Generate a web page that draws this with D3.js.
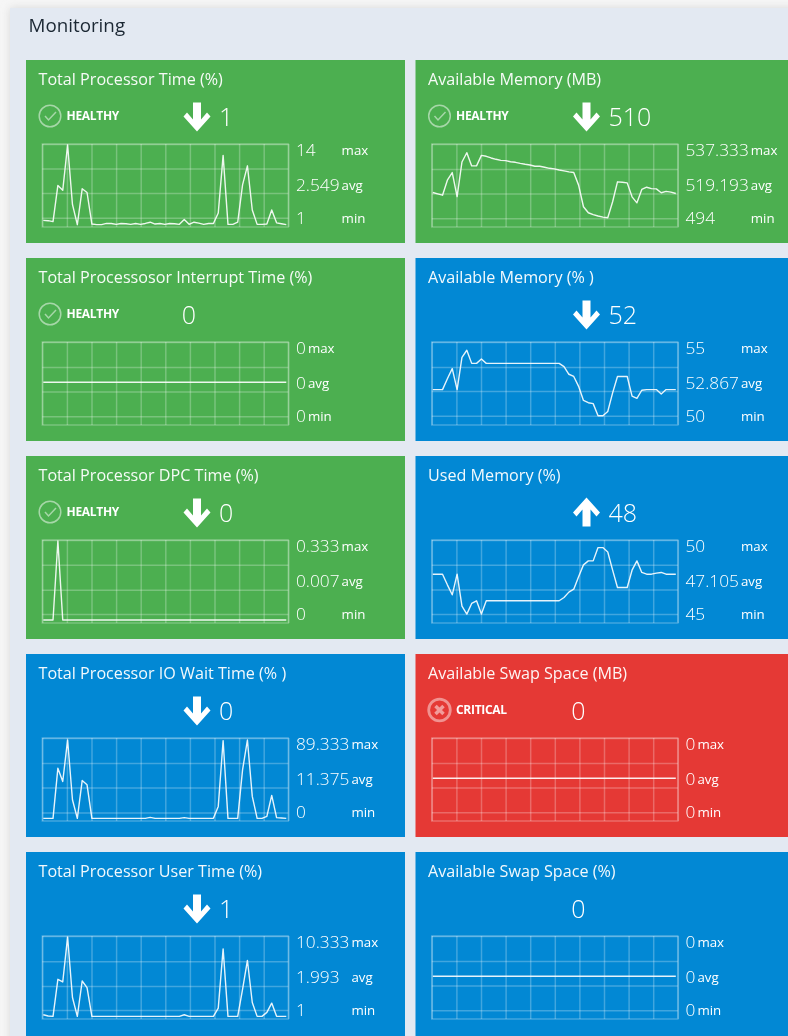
<!DOCTYPE html>
<html>
<head>
<meta charset="utf-8">
<script src="https://cdn.jsdelivr.net/npm/d3@7"></script>
<style>
html, body { margin: 0; padding: 0; background: #f6f6f6; overflow: hidden; }
svg { display: block; font-family: "Open Sans", "Noto Sans", sans-serif; filter: blur(0.35px); }
</style>
</head>
<body>
<svg></svg>
<script>
// cards read row by row, left column first
var titles = ["Total Processor Time (%)", "Available Memory (MB)", "Total Processosor Interrupt Time (%)", "Available Memory (% )",
  "Total Processor DPC Time (%)", "Used Memory (%)", "Total Processor IO Wait Time (% )", "Available Swap Space (MB)",
  "Total Processor User Time (%)", "Available Swap Space (%)"];
var states = ["healthy", "healthy", "healthy", "none", "healthy", "none", "none", "critical", "none", "none"];
var arrows = ["down", "down", "", "down", "down", "up", "down", "", "down", ""];
var current = ["1", "510", "0", "52", "0", "48", "0", "0", "1", "0"];
var maxes = ["14", "537.333", "0", "55", "0.333", "50", "89.333", "0", "10.333", "0"];
var avgs = ["2.549", "519.193", "0", "52.867", "0.007", "47.105", "11.375", "0", "1.993", "0"];
var mins = ["1", "494", "0", "50", "0", "45", "0", "0", "1", "0"];

var procTime = [1.7, 1.65, 1.5, 7.4, 6.6, 14, 4.3, 1, 6.85, 6.25, 1.1, 1, 1, 1.2, 1.2, 1.05, 1.2, 1.15, 1.05, 1.2, 1.05, 1.2, 1.4, 1.1, 1.2, 1.05, 1.2, 1.15, 1.05, 1.85, 1.05, 1.4, 1.25, 1.05, 1.2, 1.2, 2.9, 12.3, 1.05, 1.05, 1.4, 7.5, 10.6, 3.4, 1.05, 1.05, 1.1, 3.4, 1.3, 1.15, 1];
var memMb = [510.8, 509.9, 509, 519, 524.1, 508.1, 531.1, 537.3, 528.5, 528.5, 535.5, 534.9, 533.8, 532.9, 532.2, 532, 531.3, 530.9, 530.2, 529.6, 529.1, 528.3, 528.3, 527.6, 526.9, 526.5, 525.8, 525.2, 524.5, 524.1, 515.7, 501.3, 497.3, 496, 495.1, 494.4, 494, 504.6, 517.9, 517.6, 517.2, 507.9, 503.9, 512.8, 514.3, 513.4, 513.2, 510.6, 511.5, 511, 510.1];
var interrupt = [0, 0, 0, 0, 0, 0, 0, 0, 0, 0, 0, 0, 0, 0, 0, 0, 0, 0, 0, 0, 0, 0, 0, 0, 0, 0, 0, 0, 0, 0, 0, 0, 0, 0, 0, 0, 0, 0, 0, 0, 0, 0, 0, 0, 0, 0, 0, 0, 0, 0, 0];
var memPct = [52, 52, 52, 52.83, 53.6, 52, 54.45, 55, 54, 54, 54.33, 54, 54, 54, 54, 54, 54, 54, 54, 54, 54, 54, 54, 54, 54, 54, 54, 53.75, 53.17, 53, 52.25, 51.17, 51, 50.93, 50, 50, 50.33, 51.75, 53, 53, 53, 51.5, 51.33, 51.95, 52, 52, 52, 51.67, 52, 52, 52];
var dpc = [0, 0, 0, 0.333, 0, 0, 0, 0, 0, 0, 0, 0, 0, 0, 0, 0, 0, 0, 0, 0, 0, 0, 0, 0, 0, 0, 0, 0, 0, 0, 0, 0, 0, 0, 0, 0, 0, 0, 0, 0, 0, 0, 0, 0, 0, 0, 0, 0, 0, 0, 0];
var usedPct = [48, 48, 48, 47.2, 46.45, 48, 45.6, 45, 45.8, 46, 45, 46, 46, 46, 46, 46, 46, 46, 46, 46, 46, 46, 46, 46, 46, 46, 46, 46.25, 46.65, 46.87, 47.8, 48.7, 49, 49, 50, 50, 49.67, 48.3, 47, 47, 47, 48.3, 49, 48.13, 48, 48, 48.08, 48.13, 48, 48, 48];
var ioWait = [0, 0, 0, 57.2, 42, 89.33, 21.2, 0, 43.1, 38.2, 0, 0, 0, 0, 0, 0, 0, 0, 0, 0, 0, 0, 1.1, 0, 0, 0, 0, 0, 0, 0.8, 0, 0, 0, 0, 0, 0, 13.6, 88.6, 0, 0, 0, 55.3, 89.33, 25, 0, 0, 2.3, 26.1, 0.8, 0.4, 0];
var swapMb = [0, 0, 0, 0, 0, 0, 0, 0, 0, 0, 0, 0, 0, 0, 0, 0, 0, 0, 0, 0, 0, 0, 0, 0, 0, 0, 0, 0, 0, 0, 0, 0, 0, 0, 0, 0, 0, 0, 0, 0, 0, 0, 0, 0, 0, 0, 0, 0, 0, 0, 0];
var userTime = [1.19, 1.04, 1, 5.36, 5.05, 10.33, 3.22, 1, 5.16, 4.39, 1, 1, 1, 1, 1, 1, 1, 1, 1, 1, 1, 1, 1, 1, 1, 1, 1, 1, 1, 1.19, 1, 1, 1, 1, 1, 1, 1.97, 8.94, 1, 1, 1, 4.19, 7.58, 2.63, 1, 1, 1.47, 2.56, 1, 1, 1];
var swapPct = [0, 0, 0, 0, 0, 0, 0, 0, 0, 0, 0, 0, 0, 0, 0, 0, 0, 0, 0, 0, 0, 0, 0, 0, 0, 0, 0, 0, 0, 0, 0, 0, 0, 0, 0, 0, 0, 0, 0, 0, 0, 0, 0, 0, 0, 0, 0, 0, 0, 0, 0];
var series = [procTime, memMb, interrupt, memPct, dpc, usedPct, ioWait, swapMb, userTime, swapPct];

// value axis of each card, bottom then top of the plot
var yDomains = [[0.62, 14.16], [487.8, 543.1], [-1.03, 0.97], [49.3, 55.63], [-0.0125, 0.337], [44.33, 50.57], [-3.03, 91.6], [-1.03, 0.97], [0.69, 10.46], [-1.03, 0.97]];
var yTicks = [[2.14, 6.15, 10.15, 14.16], [493.6, 510.1, 526.5, 543.1], [-0.82, -0.22, 0.37, 0.97], [50, 51.9, 53.72, 55.63], [0.025, 0.128, 0.233, 0.337],
  [45, 46.84, 48.7, 50.57], [6.8, 35.2, 63.2, 91.6], [-0.82, -0.22, 0.37, 0.97], [1.74, 4.58, 7.5, 10.46], [-0.82, -0.22, 0.37, 0.97]];

var width = 788, height = 1036;
var cardWidth = 379, cardHeight = 183, plotWidth = 246, plotHeight = 83;
var colX = [26, 415.5], rowY = [60, 258, 456, 654, 852];
var fills = { healthy: "#4caf50", critical: "#e53935", none: "#0288d4" };
var statusText = { healthy: "HEALTHY", critical: "CRITICAL" };

var svg = d3.select("svg").attr("width", width).attr("height", height);

var defs = svg.append("defs");
defs.append("filter").attr("id", "soft").attr("x", "-5%").attr("y", "-5%").attr("width", "110%").attr("height", "110%")
  .append("feGaussianBlur").attr("stdDeviation", 4);

svg.append("rect").attr("x", 10).attr("y", 8).attr("width", 800).attr("height", 1050)
  .attr("fill", "#d8d8d8").attr("filter", "url(#soft)");
svg.append("rect").attr("x", 10).attr("y", 8).attr("width", 800).attr("height", 1050).attr("fill", "#e3e9f2");

svg.append("text").attr("x", 28.5).attr("y", 32).attr("font-size", 18.8).attr("fill", "#1b2733").text("Monitoring");

var gridX = d3.scaleLinear().domain([0, 10]).range([0, plotWidth]);
var dataX = d3.scaleLinear().domain([0, 50]).range([1, plotWidth - 2]);

titles.forEach(function (title, i) {
  var row = Math.floor(i / 2);
  var card = svg.append("g")
    .attr("transform", "translate(" + colX[i % 2] + "," + rowY[row] + ")");

  // the bottom row runs off the page
  card.append("rect").attr("width", cardWidth).attr("height", row == 4 ? cardHeight + 8 : cardHeight)
    .attr("fill", fills[states[i]]);

  card.append("text").attr("x", 12.5).attr("y", 24.5).attr("font-size", 16.15)
    .attr("fill", "#fff").attr("fill-opacity", 0.95).text(title);

  // status badge
  if (states[i] != "none") {
    var badge = card.append("g").attr("transform", "translate(24,56)");
    badge.append("circle").attr("r", 10.8).attr("fill", "none")
      .attr("stroke", "#fff").attr("stroke-opacity", 0.5).attr("stroke-width", 1.5);
    if (states[i] == "healthy") {
      badge.append("path").attr("d", "M-5,0 L-1.5,4 L6,-4").attr("fill", "none")
        .attr("stroke", "#fff").attr("stroke-opacity", 0.5).attr("stroke-width", 1.5);
    } else {
      badge.select("circle").attr("stroke-width", 2.8).attr("stroke-opacity", 0.45);
      badge.append("path").attr("d", "M-4,-4 L4,4 M4,-4 L-4,4").attr("fill", "none")
        .attr("stroke", "#fff").attr("stroke-opacity", 0.5).attr("stroke-width", 3.5);
    }
    card.append("text").attr("x", 40.5).attr("y", 60).attr("font-size", 12).attr("font-weight", 700)
      .attr("letter-spacing", -0.3).attr("fill", "#fff").text(statusText[states[i]]);
  }

  // trend arrow and current value
  if (arrows[i]) {
    card.append("path")
      .attr("d", "M-4,-14 H4 V3 L10,-4 L13.5,0 L0,15 L-13.5,0 L-10,-4 L-4,3 Z")
      .attr("fill", "#fff")
      .attr("transform", "translate(171,56.5)" + (arrows[i] == "up" ? " rotate(180)" : ""));
    card.append("text").attr("x", 193).attr("y", 66).attr("font-size", 25).attr("font-weight", 300)
      .attr("fill", "#fff").text(current[i]);
  } else {
    card.append("text").attr("x", 163).attr("y", 66).attr("text-anchor", "middle").attr("font-size", 25).attr("font-weight", 300)
      .attr("fill", "#fff").text(current[i]);
  }

  // plot
  var y = d3.scaleLinear().domain(yDomains[i]).range([plotHeight, 0]);
  var plot = card.append("g").attr("transform", "translate(16.3,84)");

  plot.append("g").attr("transform", "translate(0," + plotHeight + ")")
    .call(d3.axisBottom(gridX).ticks(10).tickSize(-plotHeight).tickFormat(""))
    .call(function (g) { g.select(".domain").remove(); });
  plot.append("g")
    .call(d3.axisLeft(y).tickValues(yTicks[i]).tickSize(-plotWidth).tickFormat(""))
    .call(function (g) { g.select(".domain").remove(); });
  plot.append("rect").attr("width", plotWidth).attr("height", plotHeight).attr("fill", "none")
    .attr("stroke", "#fff").attr("stroke-opacity", 0.25).attr("stroke-width", 1.5);
  plot.selectAll(".tick line").attr("stroke", "#fff").attr("stroke-opacity", 0.25).attr("stroke-width", 1.5);

  plot.append("path").datum(series[i])
    .attr("fill", "none").attr("stroke", "#fff").attr("stroke-opacity", 0.9).attr("stroke-width", 1.4).attr("stroke-linejoin", "round")
    .attr("d", d3.line().x(function (d, k) { return dataX(k); }).y(function (d) { return y(d); }));

  // max, avg, min; the labels line up just after the widest value
  var statX = 270;
  var rows = [[maxes[i], "max", 96], [avgs[i], "avg", 131], [mins[i], "min", 164]];
  var widest = 0;
  rows.forEach(function (r) {
    var t = card.append("text").attr("x", statX).attr("y", r[2]).attr("font-size", 17.3).attr("font-weight", 300)
      .attr("fill", "#fff").text(r[0]);
    widest = Math.max(widest, t.node().getComputedTextLength());
  });
  rows.forEach(function (r) {
    card.append("text").attr("x", statX + widest + 2).attr("y", r[2] - 1).attr("font-size", 13.3)
      .attr("fill", "#fff").text(r[1]);
  });
});
</script>
</body>
</html>
